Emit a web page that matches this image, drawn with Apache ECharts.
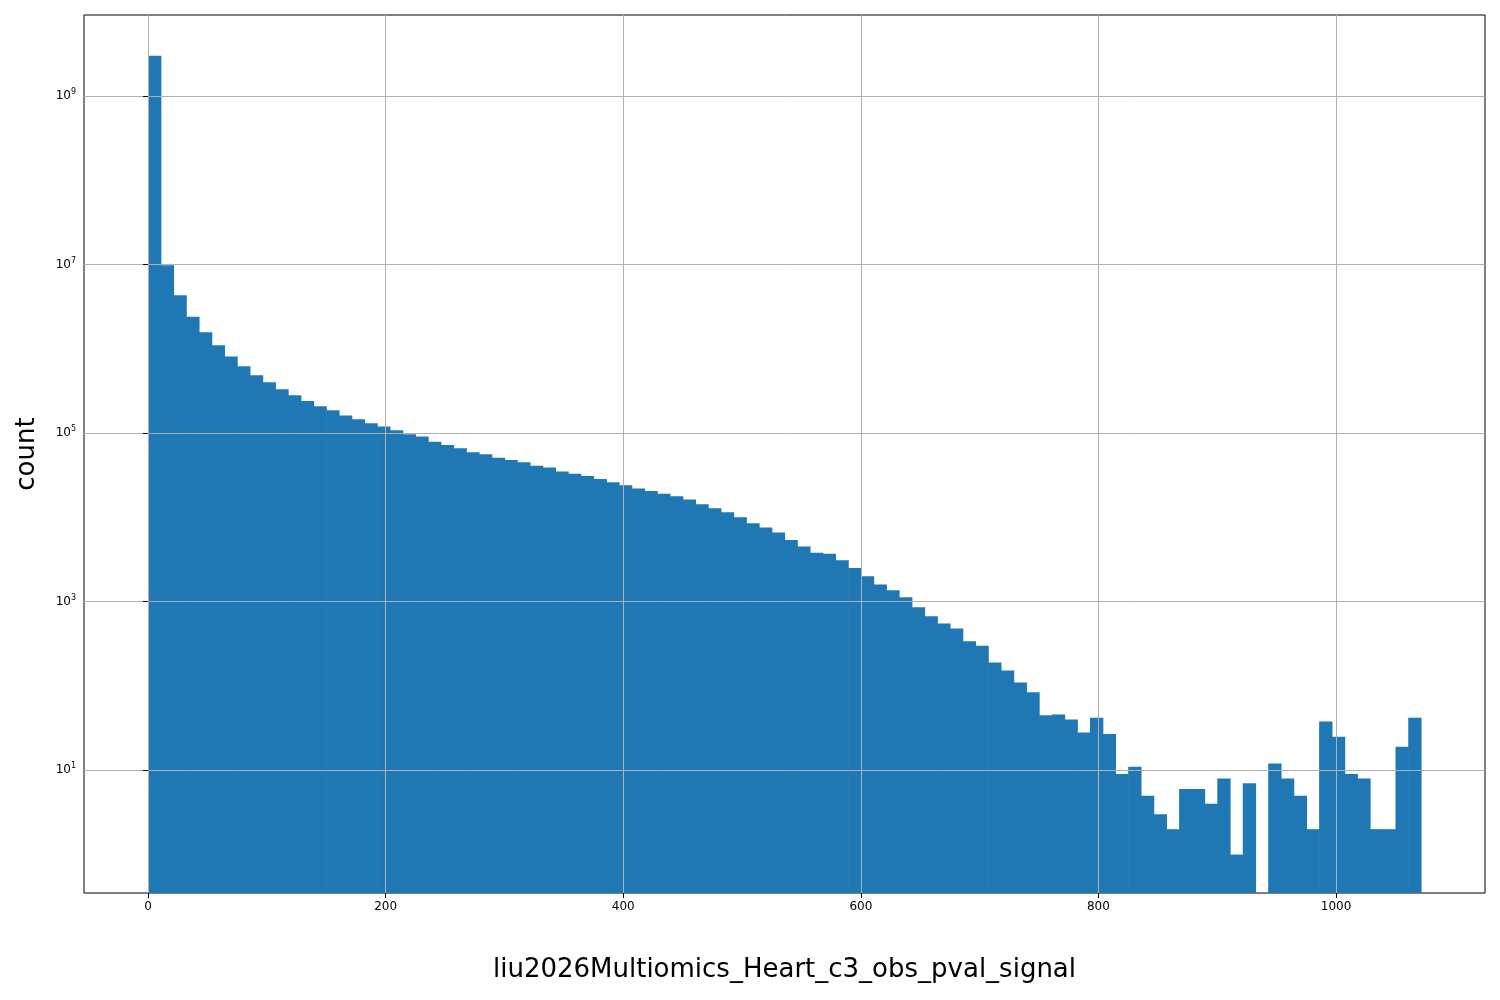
<!DOCTYPE html>
<html><head><meta charset="utf-8">
<script src="https://cdn.jsdelivr.net/npm/echarts@6/dist/echarts.min.js"></script>
<style>html,body{margin:0;padding:0;background:#fff}#c{width:1500px;height:1000px}</style>
</head><body><div id="c"></div>
<script>
const binStart = 0;
const binWidth = 10.715;
const counts = [
3.0e9, 9.8e6, 4.3e6, 2.4e6, 1.57e6, 1.1e6, 8.1e5, 6.2e5, 4.85e5, 4.0e5,
3.3e5, 2.8e5, 2.4e5, 2.08e5, 1.87e5, 1.62e5, 1.46e5, 1.31e5, 1.2e5, 1.08e5,
9.7e4, 9.1e4, 7.9e4, 7.2e4, 6.6e4, 5.9e4, 5.6e4, 5.1e4, 4.8e4, 4.5e4,
4.1e4, 3.9e4, 3.5e4, 3.3e4, 3.1e4, 2.85e4, 2.6e4, 2.4e4, 2.2e4, 2.05e4,
1.9e4, 1.78e4, 1.63e4, 1.43e4, 1.28e4, 1.15e4, 1.0e4, 8.5e3, 7.6e3, 6.6e3,
5.4e3, 4.5e3, 3.8e3, 3.7e3, 3.1e3, 2.5e3, 2.0e3, 1.6e3, 1.37e3, 1.13e3,
860, 670, 550, 480, 340, 300, 190, 153, 110, 84,
45, 46, 40, 28, 42, 27, 9, 11, 5, 3,
2, 6, 6, 4, 8, 1, 7, 0, 12, 8,
5, 2, 38, 25, 9, 8, 2, 2, 19, 42
];
const yTicks = [10, 1e3, 1e5, 1e7, 1e9];
const xTicks = [0, 200, 400, 600, 800, 1000];
const yMin = 0.35, yMax = 9.1e9;

const bins = counts.map((c, i) => [binStart + i * binWidth, binStart + (i + 1) * binWidth, c]).filter(d => d[2] > 0);
const chart = echarts.init(document.getElementById('c'));
chart.setOption({
  animation: false,
  grid: {left: 84, right: 15, top: 15, bottom: 107, show: true, borderColor: '#000', borderWidth: 1},
  xAxis: {
    type: 'value', min: -53.9, max: 1125.4, z: 5,
    name: 'liu2026Multiomics_Heart_c3_obs_pval_signal', nameLocation: 'middle', nameGap: 64,
    nameTextStyle: {fontSize: 26, color: '#000', fontFamily: 'DejaVu Sans'},
    axisLine: {show: false},
    axisTick: {show: true, customValues: xTicks, length: 5, lineStyle: {color: '#000'}},
    axisLabel: {customValues: xTicks, color: '#000', fontSize: 12, fontFamily: 'DejaVu Sans', margin: 8, formatter: v => String(v)},
    splitLine: {show: true, lineStyle: {color: '#b0b0b0', width: 1}}
  },
  yAxis: {
    type: 'log', logBase: 10, min: yMin, max: yMax, z: 5,
    name: 'count', nameLocation: 'middle', nameGap: 44,
    nameTextStyle: {fontSize: 26, color: '#000', fontFamily: 'DejaVu Sans'},
    axisLine: {show: false},
    axisTick: {show: true, customValues: yTicks, length: 5, lineStyle: {color: '#000'}},
    axisLabel: {customValues: yTicks, color: '#000', fontFamily: 'DejaVu Sans', margin: 8,
      formatter: v => '{b|10}{s|' + Math.round(Math.log10(v)) + '}',
      rich: {b: {fontSize: 12, color: '#000', fontFamily: 'DejaVu Sans'}, s: {fontSize: 8, color: '#000', fontFamily: 'DejaVu Sans', verticalAlign: 'bottom', padding: [0,0,8,0]}}},
    splitLine: {show: true, lineStyle: {color: '#b0b0b0', width: 1}}
  },
  series: [{
    type: 'custom', data: bins, z: 1,
    renderItem: (params, api) => {
      const p0 = api.coord([api.value(0), api.value(2)]);
      const p1 = api.coord([api.value(1), yMin]);
      return {type: 'rect', shape: {x: p0[0], y: p0[1], width: p1[0] - p0[0] + 0.6, height: p1[1] - p0[1]},
        style: {fill: '#1f77b4'}};
    }
  }]
});
</script></body></html>
